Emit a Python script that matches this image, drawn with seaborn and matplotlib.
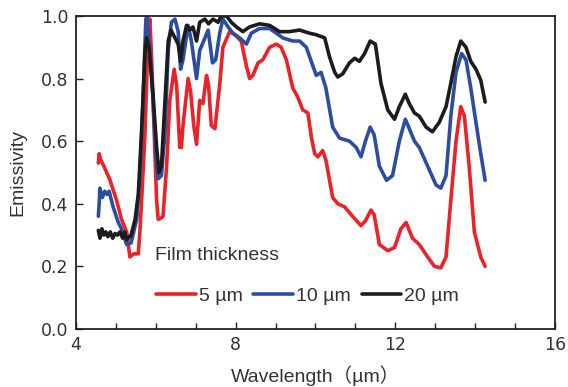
import matplotlib
matplotlib.use("Agg")
import matplotlib.pyplot as plt
import seaborn as sns
import pandas as pd
from matplotlib.ticker import MultipleLocator, FormatStrFormatter
from matplotlib.lines import Line2D

# ---------------- data ----------------
x_5 = [4.56, 4.58, 4.62, 4.70, 4.85, 5.02, 5.14, 5.27, 5.35, 5.45, 5.56, 5.60, 5.66, 5.73,
       5.81, 5.85, 5.89, 5.93, 6.02, 6.06, 6.14, 6.18, 6.27, 6.35, 6.46, 6.52, 6.60, 6.64,
       6.68, 6.81, 6.87, 6.95, 7.02, 7.10, 7.18, 7.27, 7.32, 7.39, 7.48, 7.60, 7.68, 7.85,
       7.98, 8.14, 8.27, 8.35, 8.43, 8.56, 8.68, 8.85, 9.02, 9.14, 9.27, 9.43, 9.56, 9.68,
       9.81, 9.90, 9.98, 10.06, 10.18, 10.26, 10.43, 10.56, 10.73, 10.93, 11.14, 11.25,
       11.39, 11.47, 11.60, 11.81, 11.98, 12.14, 12.27, 12.43, 12.60, 12.81, 12.98, 13.14,
       13.27, 13.39, 13.52, 13.64, 13.73, 13.85, 13.98, 14.14, 14.25]
y_5 = [0.53, 0.56, 0.54, 0.52, 0.476, 0.41, 0.35, 0.31, 0.23, 0.24, 0.24, 0.31, 0.45, 0.63,
       0.95, 0.99, 0.88, 0.73, 0.41, 0.35, 0.355, 0.36, 0.52, 0.73, 0.83, 0.78, 0.58, 0.58,
       0.65, 0.80, 0.76, 0.65, 0.59, 0.73, 0.72, 0.81, 0.78, 0.65, 0.64, 0.78, 0.90, 0.95,
       0.94, 0.92, 0.84, 0.80, 0.81, 0.85, 0.86, 0.90, 0.91, 0.90, 0.86, 0.77, 0.74, 0.70,
       0.69, 0.61, 0.56, 0.55, 0.57, 0.54, 0.42, 0.40, 0.39, 0.36, 0.33, 0.345,
       0.38, 0.365, 0.27, 0.25, 0.26, 0.32, 0.34, 0.29, 0.27, 0.23, 0.20, 0.195,
       0.23, 0.41, 0.60, 0.71, 0.68, 0.52, 0.31, 0.23, 0.20]

x_10 = [4.56, 4.58, 4.60, 4.66, 4.72, 4.78, 4.83, 4.93, 5.06, 5.14, 5.27, 5.38, 5.52, 5.60,
        5.68, 5.75, 5.78, 5.85, 5.93, 6.02, 6.06, 6.14, 6.23, 6.31, 6.39, 6.48, 6.56, 6.62,
        6.68, 6.81, 6.89, 7.02, 7.10, 7.23, 7.31, 7.42, 7.50, 7.60, 7.68, 7.81, 7.93, 8.10,
        8.27, 8.39, 8.60, 8.85, 9.02, 9.18, 9.43, 9.60, 9.77, 9.88, 10.02, 10.14, 10.26,
        10.43, 10.60, 10.85, 11.02, 11.14, 11.25, 11.37, 11.47, 11.60, 11.78, 11.93, 12.10,
        12.25, 12.35, 12.48, 12.60, 12.81, 13.02, 13.14, 13.27, 13.39, 13.52, 13.66, 13.77,
        13.89, 14.02, 14.14, 14.25]
y_10 = [0.36, 0.40, 0.45, 0.42, 0.44, 0.43, 0.44, 0.39, 0.34, 0.32, 0.27, 0.275, 0.35, 0.48,
        0.73, 0.99, 1.0, 0.89, 0.73, 0.52, 0.48, 0.49, 0.63, 0.89, 0.98, 0.99, 0.95, 0.83,
        0.86, 0.97, 0.92, 0.80, 0.89, 0.93, 0.955, 0.85, 0.86, 0.945, 0.99, 0.965, 0.945, 0.93,
        0.91, 0.945, 0.96, 0.96, 0.945, 0.93, 0.92, 0.92, 0.90, 0.86, 0.81, 0.82, 0.77,
        0.645, 0.61, 0.60, 0.58, 0.55, 0.60, 0.645, 0.62, 0.52, 0.475, 0.49, 0.60,
        0.67, 0.64, 0.60, 0.58, 0.52, 0.46, 0.45, 0.49, 0.68, 0.82, 0.88, 0.86,
        0.77, 0.66, 0.56, 0.475]

x_20 = [4.56, 4.60, 4.65, 4.70, 4.75, 4.80, 4.86, 4.92, 4.98, 5.04, 5.10, 5.17, 5.22, 5.27,
        5.38, 5.48, 5.56, 5.64, 5.73, 5.77, 5.83, 5.93, 6.02, 6.08, 6.14, 6.23, 6.31, 6.38,
        6.48, 6.56, 6.62, 6.68, 6.77, 6.85, 6.93, 7.02, 7.10, 7.23, 7.32, 7.43, 7.56, 7.64,
        7.77, 7.89, 8.02, 8.18, 8.35, 8.60, 8.85, 9.10, 9.35, 9.60, 9.85, 10.02, 10.23,
        10.35, 10.48, 10.56, 10.68, 10.85, 10.98, 11.10, 11.23, 11.37, 11.50, 11.64, 11.81,
        11.98, 12.10, 12.25, 12.35, 12.48, 12.60, 12.77, 12.93, 13.10, 13.27, 13.39, 13.52,
        13.64, 13.77, 13.89, 14.02, 14.14, 14.25]
y_20 = [0.315, 0.29, 0.32, 0.30, 0.31, 0.295, 0.31, 0.29, 0.305, 0.30, 0.31, 0.29, 0.31, 0.285,
        0.30, 0.35, 0.43, 0.625, 0.89, 0.93, 0.90, 0.75, 0.58, 0.50, 0.52, 0.73, 0.92, 0.955,
        0.93, 0.91, 0.855, 0.92, 0.97, 0.955, 0.965, 0.92, 0.98, 0.99, 0.975, 0.99, 0.98, 1.0,
        1.0, 0.98, 0.965, 0.95, 0.965, 0.975, 0.97, 0.95, 0.95, 0.955, 0.945, 0.94, 0.93,
        0.87, 0.82, 0.805, 0.815, 0.85, 0.865, 0.855, 0.88, 0.92, 0.91, 0.785, 0.70,
        0.67, 0.71, 0.75, 0.72, 0.69, 0.68, 0.645, 0.63, 0.66, 0.71, 0.785, 0.87,
        0.92, 0.90, 0.855, 0.83, 0.795, 0.725]

series_labels = ["5 µm", "10 µm", "20 µm"]
x_ticks = [4, 8, 12, 16]
y_ticks = [0.0, 0.2, 0.4, 0.6, 0.8, 1.0]

# ---------------- build table ----------------
frames = []
for lab, xs, ys in zip(series_labels, [x_5, x_10, x_20], [y_5, y_10, y_20]):
    frames.append(pd.DataFrame({"wl": xs, "em": ys, "film": lab}))
df = pd.concat(frames, ignore_index=True)

colors = {"5 µm": "#e8232a", "10 µm": "#2d4da0", "20 µm": "#1c1c1c"}

sns.set_theme(style="ticks")
plt.rcParams["font.family"] = ["Liberation Sans", "Noto Sans CJK JP", "DejaVu Sans"]
text_col = "#333333"

fig = plt.figure(figsize=(5.68, 3.87), dpi=100)
ax = fig.add_axes([0.1338, 0.150, 0.8433, 0.8087])

sns.lineplot(data=df, x="wl", y="em", hue="film", palette=colors, sort=False,
             estimator=None, linewidth=2.6, legend=False, ax=ax)

ax.set_xlim(4, 16)
ax.set_ylim(0, 1.0)
ax.set_xticks(x_ticks)
ax.xaxis.set_minor_locator(MultipleLocator(1))
ax.set_yticks(y_ticks)
ax.yaxis.set_major_formatter(FormatStrFormatter("%.1f"))
ax.tick_params(axis="both", which="major", direction="in", length=5, width=1,
               colors="#222222", labelcolor=text_col)
ax.tick_params(axis="x", which="major", pad=5)
ax.tick_params(axis="y", which="major", pad=5.5)
ax.tick_params(axis="x", which="minor", direction="in", length=4, width=1, colors="#222222")
for lbl in ax.get_xticklabels() + ax.get_yticklabels():
    lbl.set_fontfamily(["DejaVu Sans"])
    lbl.set_fontsize(12.5)
for s in ax.spines.values():
    s.set_linewidth(1.3)
    s.set_color("#222222")
    s.set_visible(True)

ax.set_xlabel("Wavelength（µm）", fontsize=14, color=text_col, labelpad=8)
ax.set_ylabel("Emissivity", fontsize=14, color=text_col, labelpad=10)

ax.text(5.98, 0.235, "Film thickness", fontsize=14, color=text_col, va="center", ha="left")

handles = [Line2D([0], [0], color=colors[l], lw=2.6) for l in series_labels]
ax.legend(handles, series_labels, loc="center left", bbox_to_anchor=(0.167, 0.105),
          ncol=3, frameon=False, fontsize=14, handlelength=2.05, handletextpad=0.15,
          columnspacing=0.55, borderaxespad=0, borderpad=0, labelcolor=text_col)

fig.savefig("out.png", dpi=100)
